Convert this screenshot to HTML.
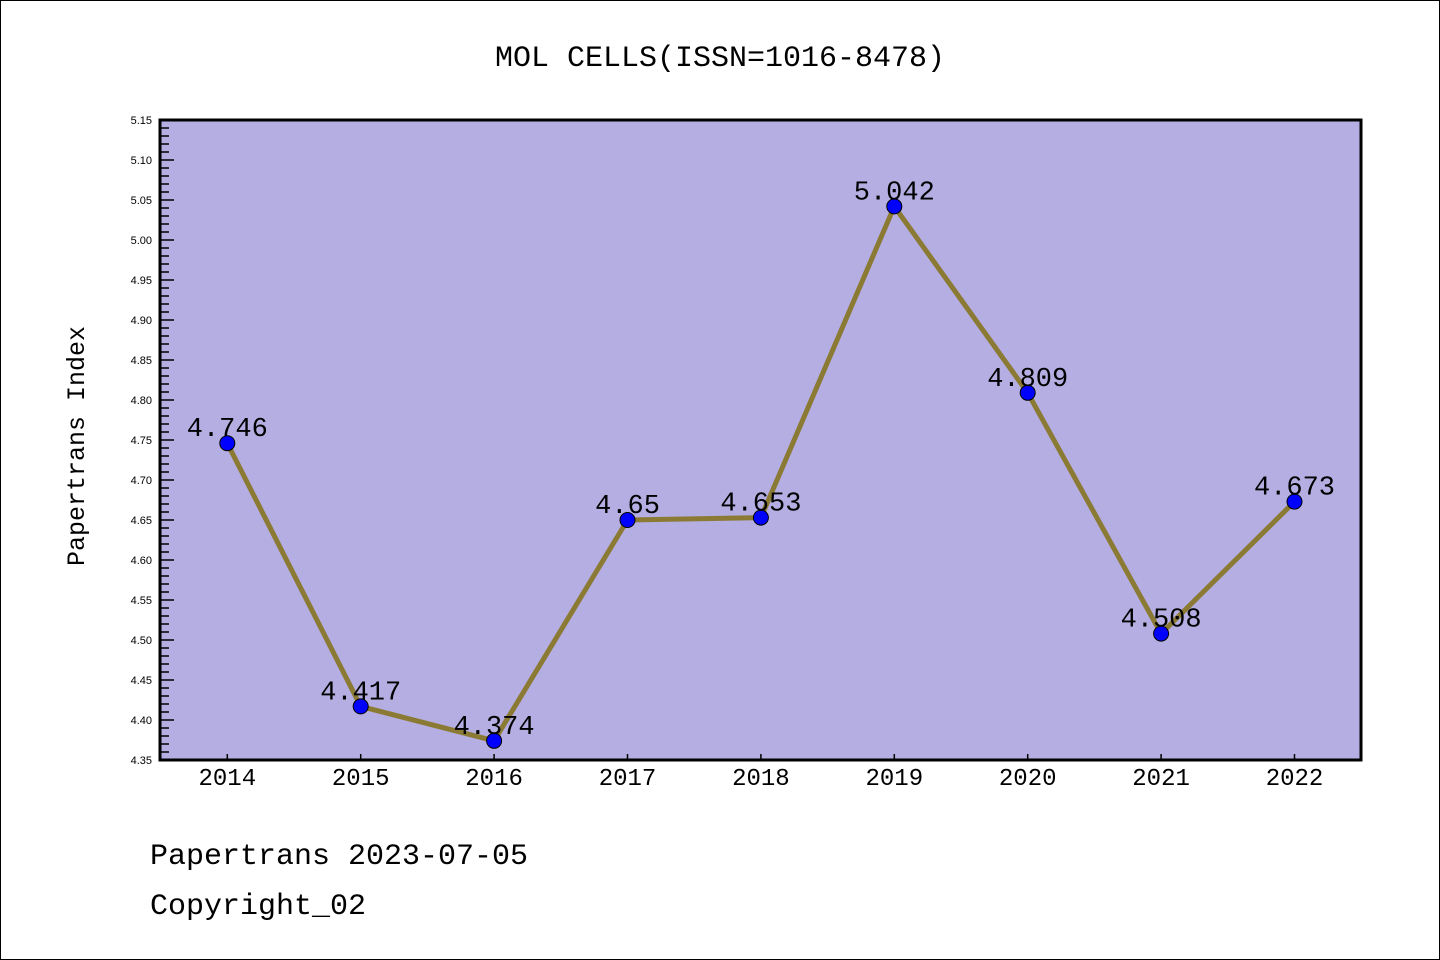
<!DOCTYPE html>
<html><head><meta charset="utf-8"><style>
html,body{margin:0;padding:0;background:#fff;}
svg{display:block;}
text{font-family:"Liberation Mono","WenQuanYi Zen Hei",monospace;fill:#000;}
.sans{font-family:"Liberation Sans",sans-serif;}
</style></head><body>
<svg id="chart" width="1440" height="960" xmlns="http://www.w3.org/2000/svg">
<rect x="0.5" y="0.5" width="1439" height="959" fill="#fff" stroke="#000" stroke-width="1"/>
<text x="720" y="66" text-anchor="middle" font-size="30">MOL CELLS(ISSN=1016-8478)</text>
<rect x="160" y="120" width="1201" height="640" fill="#b5aee2"/>
<g id="ticks"></g>
<g id="series"></g>
<rect x="160" y="120" width="1201" height="640" fill="none" stroke="#000" stroke-width="3"/>
<text transform="translate(84,446) rotate(-90)" text-anchor="middle" font-size="25">Papertrans Index</text>
<text x="150" y="864" font-size="30">Papertrans 2023-07-05</text>
<text x="150" y="914" font-size="30">Copyright_02</text>
</svg>
<script>
const years = ["2014","2015","2016","2017","2018","2019","2020","2021","2022"];
const values = [4.746,4.417,4.374,4.65,4.653,5.042,4.809,4.508,4.673];
const valueLabels = ["4.746","4.417","4.374","4.65","4.653","5.042","4.809","4.508","4.673"];
const yTickLabels = ["4.35","4.40","4.45","4.50","4.55","4.60","4.65","4.70","4.75","4.80","4.85","4.90","4.95","5.00","5.05","5.10","5.15"];
const NS="http://www.w3.org/2000/svg";
const yMin=4.35,yMax=5.15,plotTop=120,plotBottom=760,plotLeft=160;
function yFor(v){return plotBottom-(v-yMin)/(yMax-yMin)*(plotBottom-plotTop);}
function xFor(i){return 227.3+133.4*i;}
function mk(t,a,p){const e=document.createElementNS(NS,t);for(const k in a)e.setAttribute(k,a[k]);p.appendChild(e);return e;}
const tg=document.getElementById('ticks');
for(let k=0;k<=80;k++){
  const v=yMin+k*0.01,y=yFor(v),major=k%5===0;
  const l=mk('line',{x1:plotLeft,x2:plotLeft+(major?14:9),y1:y,y2:y,stroke:'#000','stroke-width':1.5},tg);
  
  
}
yTickLabels.forEach(s=>{
  const t=mk('text',{x:152,y:yFor(parseFloat(s))+4,'text-anchor':'end','font-size':11,'class':'sans'},tg);
  
  
  t.textContent=s;
});
years.forEach((yr,i)=>{
  const x=xFor(i);
  const l=mk('line',{x1:x,x2:x,y1:plotBottom,y2:plotBottom-6,stroke:'#000','stroke-width':1.5},tg);
  
  
  const t=mk('text',{x:x,y:785,'text-anchor':'middle','font-size':24},tg);
  
  
  t.textContent=yr;
});
const sg=document.getElementById('series');
const pl=mk('polyline',{points:values.map((v,i)=>xFor(i)+','+yFor(v)).join(' '),fill:'none',stroke:'#8b7a34','stroke-width':5,'stroke-linejoin':'round'},sg);


values.forEach((v,i)=>{
  const c=mk('circle',{cx:xFor(i),cy:yFor(v),r:7.5,fill:'#0000ff',stroke:'#000','stroke-width':1},sg);
  
  
});
values.forEach((v,i)=>{
  const t=mk('text',{x:xFor(i),y:yFor(v)-7,'text-anchor':'middle','font-size':27},sg);
  
  
  t.textContent=valueLabels[i];
});
</script>
</body></html>
